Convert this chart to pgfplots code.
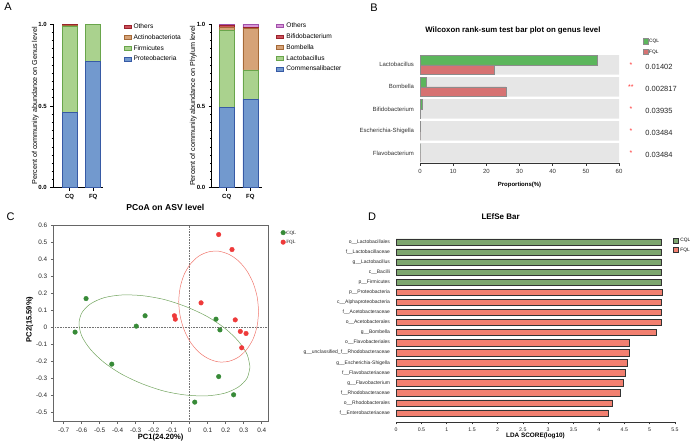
\documentclass[border=0pt]{standalone}
\usepackage{fontspec}
\setmainfont{Liberation Sans}
\newfontfamily\serifcql{Liberation Serif}
\usepackage{pgfplots}
\pgfplotsset{compat=1.18}

% panel A
\definecolor{ablue}{RGB}{114,153,206}
\definecolor{ablueD}{RGB}{55,90,165}
\definecolor{agreen}{RGB}{170,210,142}
\definecolor{agreenD}{RGB}{105,165,75}
\definecolor{aorange}{RGB}{214,163,120}
\definecolor{aorangeD}{RGB}{165,105,55}
\definecolor{ared}{RGB}{205,80,90}
\definecolor{aredD}{RGB}{155,35,45}
\definecolor{apurple}{RGB}{215,150,215}
\definecolor{apurpleD}{RGB}{160,80,170}
% panel B
\definecolor{bgreen}{RGB}{92,182,92}
\definecolor{bred}{RGB}{214,114,114}
\definecolor{bband}{RGB}{230,230,230}
% panel C
\definecolor{cgreen}{RGB}{55,138,55}
\definecolor{cred}{RGB}{238,58,58}
\definecolor{cgline}{RGB}{115,165,95}
\definecolor{crline}{RGB}{240,120,110}
% panel D
\definecolor{dgreen}{RGB}{125,166,110}
\definecolor{dred}{RGB}{242,128,112}

\pgfplotsset{
  base/.style={scale only axis, anchor=south west,
    /pgf/number format/assume math mode=true},
  boxleg/.style={legend image code/.code={
    \draw[##1,line width=0.5pt] (0pt,-1.8pt) rectangle (7pt,1.8pt);}},
  panelA/.style={base, width=50pt, height=163.5pt,
    ybar stacked, bar width=15pt,
    ymin=0, ymax=1,
    axis x line*=bottom, axis y line*=left,
    axis line style={line width=0.9pt},
    xtick={1,2}, xticklabels={CQ,FQ},
    ytick={0,0.5,1}, minor y tick num=9,
    yticklabel style={/pgf/number format/fixed,
      /pgf/number format/fixed zerofill, /pgf/number format/precision=1},
    tick align=outside,
    major tick length=3pt, minor tick length=1.6pt,
    tick style={line width=0.6pt, black},
    tick label style={font=\fontsize{6}{7}\selectfont\bfseries},
    ylabel style={font=\fontsize{7.2}{8}\selectfont, anchor=center},
    legend style={draw=none, fill=none, anchor=north west,
      font=\fontsize{6.6}{7}\selectfont, cells={anchor=west},
      nodes={inner sep=0.5pt, text height=4.8pt, text depth=1.2pt},
      row sep=3.8pt, column sep=2pt},
    boxleg, reverse legend,
    every axis plot/.append style={line width=0.6pt}},
}

\begin{document}
\begin{tikzpicture}
\path[use as bounding box] (0,0) rectangle (690pt,441pt);

% panel letters
\node[font=\fontsize{11}{12}\selectfont] at (8pt,434pt) {A};
\node[font=\fontsize{11}{12}\selectfont] at (374pt,433pt) {B};
\node[font=\fontsize{11}{12}\selectfont] at (10.5pt,224pt) {C};
\node[font=\fontsize{11}{12}\selectfont] at (372pt,224pt) {D};

% ---------------- A (genus label, phylum data)
\begin{axis}[panelA, at={(53.3pt,253.3pt)}, xmin=0.316, xmax=2.426,
  ylabel={Percent of community abundance on Genus level},
  ylabel style={at={(axis description cs:-0.36,0.5)}},
  legend style={at={(axis description cs:1.34,1.02)}}]
\addplot[fill=ablue, draw=ablueD] coordinates {(1,0.459) (2,0.771)};
\addplot[fill=agreen, draw=agreenD] coordinates {(1,0.528) (2,0.226)};
\addplot[fill=aorange, draw=aorangeD] coordinates {(1,0.006) (2,0.002)};
\addplot[fill=ared, draw=aredD] coordinates {(1,0.007) (2,0.001)};
\legend{Proteobacteria, Firmicutes, Actinobacteriota, Others}
\end{axis}

\begin{axis}[panelA, at={(211.7pt,253.3pt)}, xmin=0.364, xmax=2.48,
  ylabel={Percent of community abundance on Phylum level},
  ylabel style={at={(axis description cs:-0.37,0.5)}},
  legend style={at={(axis description cs:1.23,1.025)}}]
\addplot[fill=ablue, draw=ablueD] coordinates {(1,0.490) (2,0.541)};
\addplot[fill=agreen, draw=agreenD] coordinates {(1,0.475) (2,0.180)};
\addplot[fill=aorange, draw=aorangeD] coordinates {(1,0.013) (2,0.255)};
\addplot[fill=ared, draw=aredD] coordinates {(1,0.015) (2,0.003)};
\addplot[fill=apurple, draw=apurpleD] coordinates {(1,0.007) (2,0.021)};
\legend{Commensalibacter, Lactobacillus, Bombella, Bifidobacterium, Others}
\end{axis}

% ---------------- B
\begin{axis}[base, at={(420pt,277.7pt)}, width=199pt, height=108.6pt,
  clip=false,
  xmin=0, xmax=60, ymin=-0.47, ymax=4.46,
  axis x line*=bottom, axis y line*=left,
  y axis line style={draw=none}, ytick style={draw=none},
  x axis line style={black!80, line width=0.5pt},
  xtick={0,10,20,30,40,50,60}, tick align=outside,
  major tick length=2.5pt, xtick style={black!80, line width=0.5pt},
  ytick={0,1,2,3,4},
  yticklabels={Flavobacterium, Escherichia-Shigella, Bifidobacterium, Bombella, Lactobacillus},
  tick label style={font=\fontsize{6}{7}\selectfont, text=black!80},
  xlabel={Proportions(\%)},
  xlabel style={font=\fontsize{6}{7}\selectfont\bfseries,
    at={(axis description cs:0.5,-0.2)}, anchor=center},
  title={Wilcoxon rank-sum test bar plot on genus level},
  title style={font=\fontsize{7.8}{9}\selectfont\bfseries,
    at={(axis description cs:0.467,1.163)}, anchor=center},
  legend style={draw=none, fill=none, anchor=north west,
    at={(axis description cs:1.103,1.17)},
    font=\fontsize{4.8}{5}\selectfont, cells={anchor=west},
    nodes={inner sep=0.5pt, text height=3.6pt, text depth=0.6pt},
    row sep=4.6pt, column sep=0.5pt},
  legend image code/.code={\draw[#1,line width=0.4pt] (0pt,-2.7pt) rectangle (5pt,2.7pt);}]
\addplot[xbar, bar shift=0pt, bar width=0.89, fill=bband, draw=none, forget plot]
  coordinates {(60,0) (60,1) (60,2) (60,3) (60,4)};
\addplot[xbar, bar shift=0pt, bar width=0.42, fill=bgreen, draw=black!45, line width=0.4pt]
  coordinates {(0,0.21) (0.05,1.21) (0.7,2.21) (1.8,3.21) (53.3,4.21)};
\addplot[xbar, bar shift=0pt, bar width=0.42, fill=bred, draw=black!45, line width=0.4pt]
  coordinates {(0,-0.21) (0,0.79) (0.05,1.79) (25.9,2.79) (22.4,3.79)};
\legend{CQL, FQL}
% significance stars and p-values
\node[text=red!80, font=\fontsize{7}{7}\selectfont] at (axis cs:63.6,4.0) {*};
\node[text=red!80, font=\fontsize{7}{7}\selectfont] at (axis cs:63.6,3.0) {**};
\node[text=red!80, font=\fontsize{7}{7}\selectfont] at (axis cs:63.6,2.0) {*};
\node[text=red!80, font=\fontsize{7}{7}\selectfont] at (axis cs:63.6,1.0) {*};
\node[text=red!80, font=\fontsize{7}{7}\selectfont] at (axis cs:63.6,0.0) {*};
\node[anchor=west, font=\fontsize{7.5}{8}\selectfont, text=black!85] at (axis cs:66.9,3.9) {0.01402};
\node[anchor=west, font=\fontsize{7.5}{8}\selectfont, text=black!85] at (axis cs:66.9,2.9) {0.002817};
\node[anchor=west, font=\fontsize{7.5}{8}\selectfont, text=black!85] at (axis cs:66.9,1.9) {0.03935};
\node[anchor=west, font=\fontsize{7.5}{8}\selectfont, text=black!85] at (axis cs:66.9,0.9) {0.03484};
\node[anchor=west, font=\fontsize{7.5}{8}\selectfont, text=black!85] at (axis cs:66.9,-0.1) {0.03484};
\end{axis}

% ---------------- C
\begin{axis}[base, at={(53.3pt,19.3pt)}, width=214.7pt, height=196.7pt,
  xmin=-0.758, xmax=0.435, ymin=-0.555, ymax=0.6,
  xtick={-0.7,-0.6,-0.5,-0.4,-0.3,-0.2,-0.1,0,0.1,0.2,0.3,0.4},
  ytick={-0.5,-0.4,-0.3,-0.2,-0.1,0,0.1,0.2,0.3,0.4,0.5,0.6},
  xtick pos=left, ytick pos=left, tick align=outside,
  major tick length=2.5pt,
  axis line style={black!60, line width=0.8pt},
  tick style={black!60, line width=0.5pt},
  tick label style={font=\fontsize{6.4}{7}\selectfont, text=black!85},
  xlabel={PC1(24.20\%)}, ylabel={PC2(15.59\%)},
  xlabel style={font=\fontsize{7.6}{8}\selectfont\bfseries,
    at={(axis description cs:0.5,-0.078)}, anchor=center},
  ylabel style={font=\fontsize{7.6}{8}\selectfont\bfseries,
    at={(axis description cs:-0.11,0.52)}, anchor=center},
  title={PCoA on ASV level},
  title style={font=\fontsize{8.6}{9}\selectfont\bfseries,
    at={(axis description cs:0.522,1.06)}, anchor=center},
  legend style={draw=none, fill=none, anchor=north west,
    at={(axis description cs:1.045,0.985)},
    font=\fontsize{4.8}{5}\selectfont\serifcql, cells={anchor=west},
    nodes={inner sep=0.5pt, text height=3.5pt, text depth=0.5pt},
    row sep=4.5pt, column sep=0.5pt}]
\addplot[only marks, mark=*, mark size=2.3pt, color=cgreen] coordinates {
  (-0.576,0.168) (-0.637,-0.029) (-0.433,-0.217) (-0.297,0.006) (-0.248,0.067)
  (0.146,0.047) (0.168,-0.016) (0.161,-0.290) (0.244,-0.397) (0.028,-0.440)};
\addplot[only marks, mark=*, mark size=2.3pt, color=cred] coordinates {
  (0.161,0.544) (0.235,0.456) (0.063,0.143) (-0.085,0.067) (-0.080,0.047)
  (0.253,0.043) (0.281,-0.025) (0.313,-0.037) (0.289,-0.121)};
\legend{CQL, FQL}
\addplot[densely dotted, black!55, line width=0.6pt, forget plot]
  coordinates {(-0.758,0) (0.435,0)};
\addplot[densely dotted, black!55, line width=0.6pt, forget plot]
  coordinates {(0,-0.555) (0,0.6)};
% confidence ellipses
\addplot[smooth, cgline, line width=0.5pt, forget plot] coordinates {
  (0.335,-0.234) (0.319,-0.160) (0.271,-0.083) (0.196,-0.007) (0.098,0.062)
  (-0.017,0.119) (-0.140,0.162) (-0.263,0.185) (-0.378,0.189) (-0.476,0.173)
  (-0.551,0.137) (-0.599,0.085) (-0.615,0.020) (-0.599,-0.054) (-0.551,-0.131)
  (-0.476,-0.207) (-0.378,-0.276) (-0.263,-0.333) (-0.140,-0.376) (-0.017,-0.399)
  (0.098,-0.403) (0.196,-0.387) (0.271,-0.351) (0.319,-0.299) (0.335,-0.234)};
\addplot[smooth, crline, line width=0.5pt, forget plot] coordinates {
  (0.383,0.092) (0.375,0.177) (0.353,0.258) (0.318,0.330) (0.272,0.388)
  (0.219,0.427) (0.161,0.446) (0.104,0.442) (0.050,0.417) (0.004,0.371)
  (-0.031,0.309) (-0.053,0.233) (-0.061,0.150) (-0.053,0.065) (-0.031,-0.016)
  (0.004,-0.088) (0.050,-0.146) (0.104,-0.185) (0.161,-0.204) (0.219,-0.200)
  (0.272,-0.175) (0.318,-0.129) (0.353,-0.067) (0.375,0.009) (0.383,0.092)};
\end{axis}

% ---------------- D
\begin{axis}[base, at={(396pt,19pt)}, width=279pt, height=185pt,
  xmin=0, xmax=5.5, ymin=-0.895, ymax=17.5,
  axis x line*=bottom, axis y line*=left,
  y axis line style={draw=none}, ytick style={draw=none},
  x axis line style={black!80, line width=0.5pt},
  xtick={0,0.5,1,1.5,2,2.5,3,3.5,4,4.5,5,5.5},
  tick align=outside, major tick length=2.5pt,
  xtick style={black!80, line width=0.5pt},
  ytick={0,...,17},
  yticklabels={f\_\_Enterobacteriaceae, o\_\_Rhodobacterales, f\_\_Rhodobacteraceae,
    g\_\_Flavobacterium, f\_\_Flavobacteriaceae, g\_\_Escherichia-Shigella,
    g\_\_unclassified\_f\_\_Rhodobacteraceae, o\_\_Flavobacteriales, g\_\_Bombella,
    o\_\_Acetobacterales, f\_\_Acetobacteraceae, c\_\_Alphaproteobacteria,
    p\_\_Proteobacteria, p\_\_Firmicutes, c\_\_Bacilli, g\_\_Lactobacillus,
    f\_\_Lactobacillaceae, o\_\_Lactobacillales},
  yticklabel style={font=\fontsize{5}{5}\selectfont, text=black!85},
  xticklabel style={font=\fontsize{5.2}{6}\selectfont, text=black!85},
  xlabel={LDA SCORE(log10)},
  xlabel style={font=\fontsize{6.4}{7}\selectfont\bfseries,
    at={(axis description cs:0.5,-0.076)}, anchor=center},
  title={LEfSe Bar},
  title style={font=\fontsize{8}{9}\selectfont\bfseries,
    at={(axis description cs:0.375,1.08)}, anchor=center},
  legend style={draw=none, fill=none, anchor=north west,
    at={(axis description cs:0.983,1.008)},
    font=\fontsize{4.8}{5}\selectfont, cells={anchor=west},
    nodes={inner sep=0.5pt, text height=3.5pt, text depth=0.5pt},
    row sep=4pt, column sep=1pt},
  legend image code/.code={\fill[#1] (0pt,-2.5pt) rectangle (5pt,2.5pt);}]
\addplot[xbar, bar shift=0pt, bar width=0.63, fill=dgreen, draw=black!80, line width=0.5pt]
  coordinates {(5.23,13) (5.23,14) (5.23,15) (5.23,16) (5.23,17)};
\addplot[xbar, bar shift=0pt, bar width=0.63, fill=dred, draw=black!80, line width=0.5pt]
  coordinates {(4.18,0) (4.27,1) (4.43,2) (4.48,3) (4.52,4) (4.56,5) (4.59,6)
    (4.59,7) (5.13,8) (5.23,9) (5.23,10) (5.23,11) (5.24,12)};
\legend{CQL, FQL}
\end{axis}
\end{tikzpicture}
\end{document}
